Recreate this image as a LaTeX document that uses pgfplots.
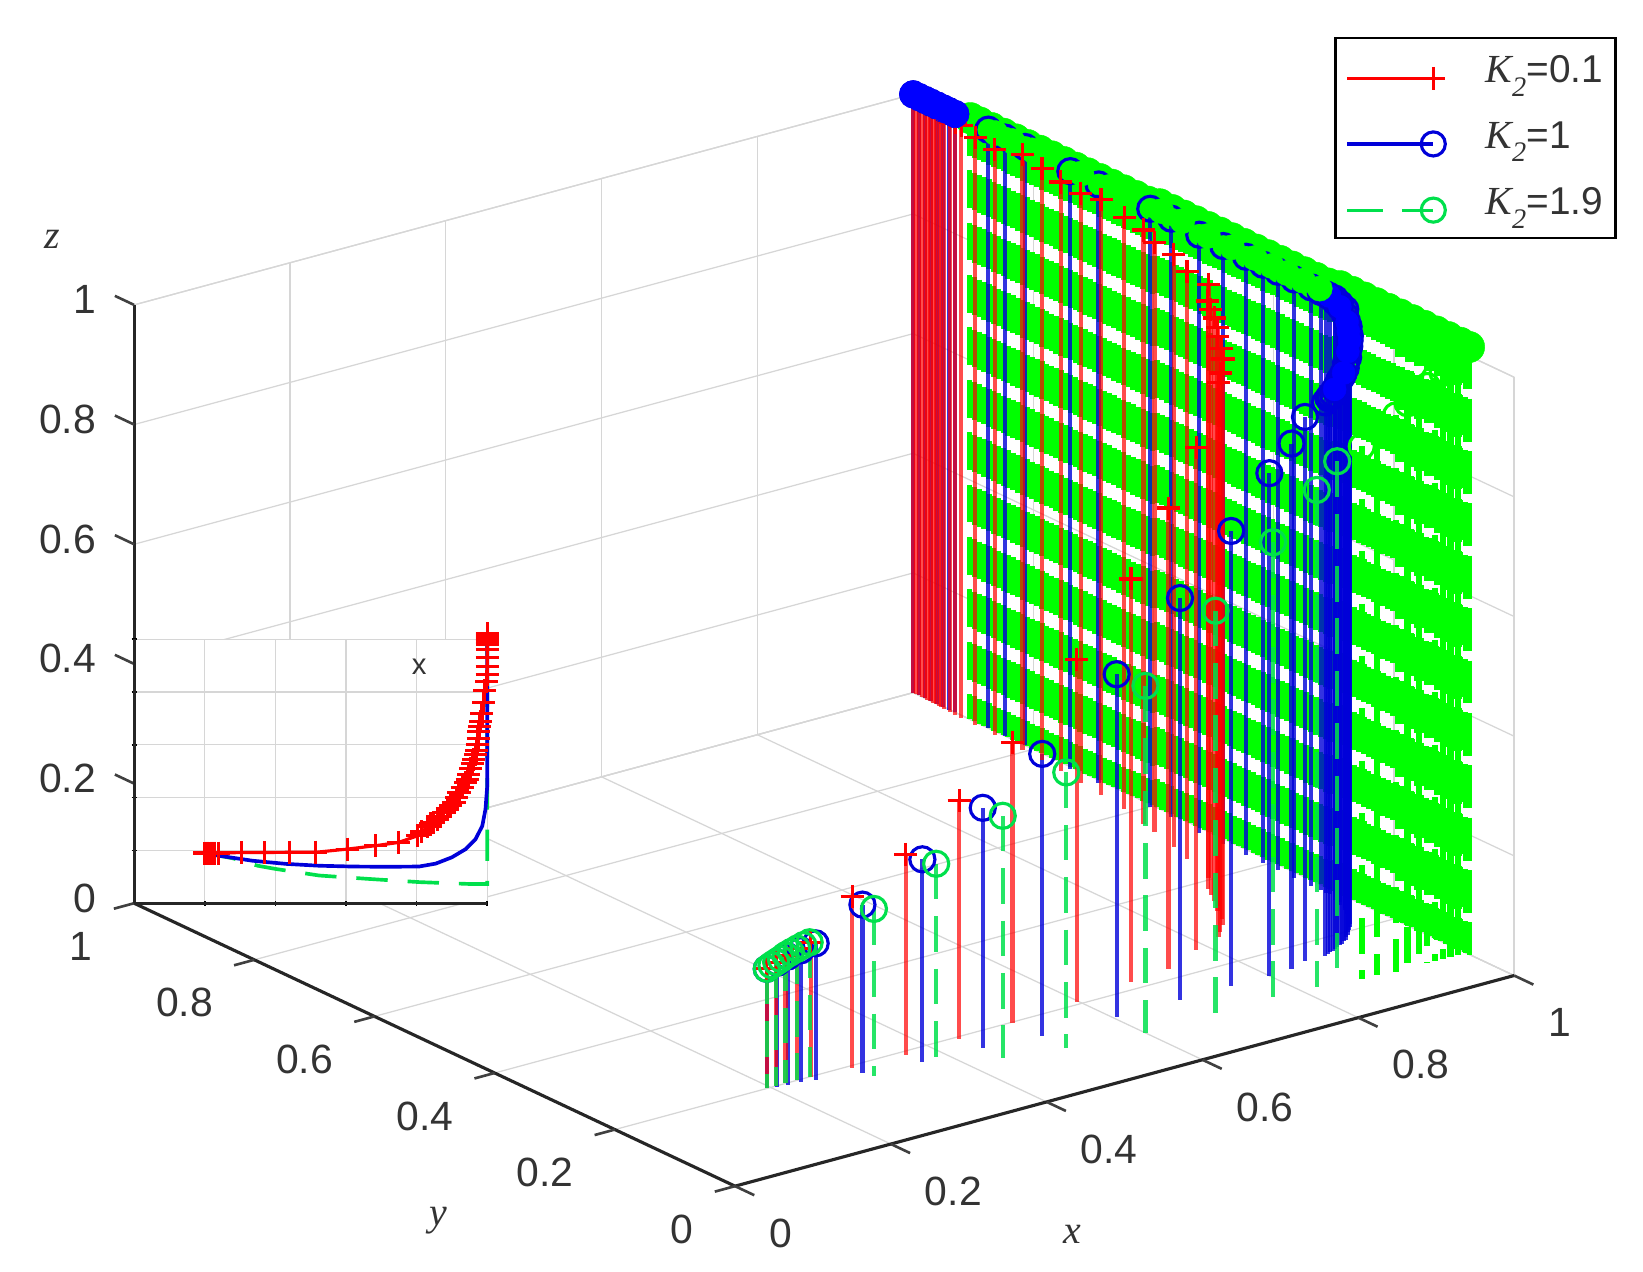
\documentclass[border=0pt]{standalone}
\usepackage{fontspec}
\setmainfont{Liberation Sans}
\newfontfamily\serifit{Liberation Serif}
\usepackage{pgfplots}
\usepackage{pgfplotstable}
\pgfplotsset{compat=1.18}

\definecolor{wallgreen}{rgb}{0,1,0}
\definecolor{dashgreen}{rgb}{0,.88,.3}
\definecolor{gridc}{gray}{.84}
\definecolor{tickc}{gray}{.2}

% x y z of the tops of the stems
\pgfplotstableread{
.195 .2 .2
.207 .2 .207
.219 .2 .214
.234 .2 .22
.25 .198 .225
.300 .194 .287
.3665 .191 .335
.437 .1935 .399
.508 .197 .470
.5975 .206 .573
.676 .2175 .674
.730 .225 .770
.785 .250 .840
.825 .265 .928
.835 .275 .935
.85 .29 .946
.86 .305 .953
.87 .325 .96
.878 .335 .967
.885 .35 .974
.892 .365 .978
.90 .38 .983
.92 .405 .992
.935 .46 .982
.945 .495 .99
.955 .54 .985
.96 .565 .993
.97 .61 .989
.975 .655 .996
.98 .695 .985
.985 .735 .984
.988 .77 .989
.99 .805 .995
.993 .855 .979
.995 .89 .982
.996 .915 .99
.996 .925 .99
.997 .935 .995
.997 .945 .995
.997 .95 .995
.998 .955 .996
.998 .96 .996
.999 .965 .997
.999 .97 .997
.999 .975 .998
1 .98 .998
1 .985 .999
1 .99 .999
1 .995 1
1 1 1
}\redpts

\pgfplotstableread{
.195 .2 .2
.207 .198 .207
.219 .196 .214
.234 .194 .22
.25 .19 .228
.2997 .1766 .2815
.3685 .166 .338
.4406 .159 .402
.51 .15 .472
.604 .148 .573
.685 .1476 .672
.7517 .149 .76
.80 .148 .84
.83 .15 .878
.855 .16 .909
.880 .159 .925
.885 .160 .93
.890 .164 .93
.895 .165 .93
.900 .169 .935
.905 .171 .94
.910 .174 .945
.915 .176 .948
.920 .180 .95
.925 .183 .955
.930 .189 .96
.935 .192 .965
.940 .199 .97
.945 .203 .975
.950 .209 .98
.955 .215 .983
.960 .224 .985
.965 .230 .988
.970 .239 .99
.975 .249 .995
.980 .255 1
.980 .264 1
.985 .270 1
.985 .279 1
.99 .285 1
.99 .294 1
.99 .30 1
.99 .309 1
.99 .325 1
.99 .353 1
.99 .38 1
.99 .405 1
.99 .433 1
.99 .471 1
.99 .511 1
.995 .564 1
.995 .599 1
.995 .685 1
.995 .732 1
1 .814 1
1 .847 1
1 .875 1
1 .93 1
1 .94 1
1 .95 1
1 .96 1
1 .97 1
1 .98 1
1 .99 1
1 1 1
}\bluepts

\pgfplotstableread{
.195 .2 .2
.201 .2 .204
.207 .2 .207
.213 .2 .21
.219 .2 .214
.226 .2 .217
.234 .2 .22
.242 .2 .223
.25 .2 .225
.3032 .162 .28
.37 .145 .34
.44 .125 .405
.51 .11 .46
.60 .095 .58
.69 .095 .674
.76 .09 .766
.82 .095 .83
.85 .1 .865
}\greenpts

\begin{document}
\begin{tikzpicture}[font=\fontsize{39}{43}\selectfont]
\begin{axis}[
    name=main,
    x={(743.5pt,201pt)}, y={(-573.5pt,270pt)}, z={(0pt,571pt)},
    xmin=0, xmax=1, ymin=0, ymax=1, zmin=0, zmax=1,
    clip=false,
    unbounded coords=jump,
    grid=major,
    grid style={gridc, line width=1.2pt},
    axis line style={gridc, line width=1.2pt},
    xtick={0,.2,.4,.6,.8,1}, ytick={0,.2,.4,.6,.8,1}, ztick={0,.2,.4,.6,.8,1},
    major tick length=0pt,
    tick style={draw=none},
    /pgf/number format/assume math mode=true,
    tick label style={text=tickc},
    xticklabel style={anchor=west, xshift=29pt, yshift=-45pt},
    yticklabel style={anchor=east, xshift=-36pt, yshift=-41pt},
    zticklabel style={anchor=east, xshift=-33pt, yshift=5pt},
    legend cell align=left,
    legend style={at={(1.0744,1.0528)}, anchor=north east,
        draw=black, line width=2.5pt, fill=white, inner xsep=10pt, inner ysep=15pt,
        row sep=28pt, font=\fontsize{37}{39}\selectfont, text=tickc},
]
% legend samples
\addlegendimage{legend image code/.code={\path[draw=none] (0pt,-8pt)--(130pt,-8pt); \draw[red, line width=3pt] (0pt,-8pt)--(82pt,-8pt);
    \draw[red, line width=3pt] plot[mark=+, mark size=11pt] coordinates {(82pt,-8pt)};}}
\addlegendentry{{\fontsize{38}{38}\selectfont\serifit\itshape K}\raisebox{-13pt}{\fontsize{27}{27}\selectfont\serifit\itshape 2}=0.1}
\addlegendimage{legend image code/.code={\path[draw=none] (0pt,-8pt)--(130pt,-8pt); \draw[blue!85!black, line width=3pt] (0pt,-8pt)--(82pt,-8pt);
    \draw[blue!85!black, line width=3pt] plot[mark=o, mark size=11.5pt] coordinates {(82pt,-8pt)};}}
\addlegendentry{{\fontsize{38}{38}\selectfont\serifit\itshape K}\raisebox{-13pt}{\fontsize{27}{27}\selectfont\serifit\itshape 2}=1}
\addlegendimage{legend image code/.code={\path[draw=none] (0pt,-8pt)--(130pt,-8pt); \draw[dashgreen, line width=3pt, dash pattern=on 34pt off 18pt] (0pt,-8pt)--(82pt,-8pt);
    \draw[dashgreen, line width=3pt] plot[mark=o, mark size=11.5pt] coordinates {(82pt,-8pt)};}}
\addlegendentry{{\fontsize{38}{38}\selectfont\serifit\itshape K}\raisebox{-13pt}{\fontsize{27}{27}\selectfont\serifit\itshape 2}=1.9\rule[-37pt]{0pt}{0pt}}

% axis lines and their outward ticks
\addplot3[forget plot, black!85, line width=3pt] coordinates {(0,0,0)(1,0,0)};
\addplot3[forget plot, black!85, line width=3pt] coordinates {(0,0,0)(0,1,0)};
\addplot3[forget plot, black!85, line width=3pt] coordinates {(0,1,0)(0,1,1)};
\addplot3[forget plot, black!75, line width=2.5pt] coordinates {
(0,0,0)(0,-.032,0)(nan,nan,nan)(.2,0,0)(.2,-.032,0)(nan,nan,nan)(.4,0,0)(.4,-.032,0)(nan,nan,nan)
(.6,0,0)(.6,-.032,0)(nan,nan,nan)(.8,0,0)(.8,-.032,0)(nan,nan,nan)(1,0,0)(1,-.032,0)};
\addplot3[forget plot, black!75, line width=2.5pt] coordinates {
(0,0,0)(-.026,0,0)(nan,nan,nan)(0,.2,0)(-.026,.2,0)(nan,nan,nan)(0,.4,0)(-.026,.4,0)(nan,nan,nan)
(0,.6,0)(-.026,.6,0)(nan,nan,nan)(0,.8,0)(-.026,.8,0)(nan,nan,nan)(0,1,0)(-.026,1,0)};
\addplot3[forget plot, black!75, line width=2.5pt] coordinates {
(0,1,.2)(0,1.032,.2)(nan,nan,nan)(0,1,.4)(0,1.032,.4)(nan,nan,nan)(0,1,.6)(0,1.032,.6)(nan,nan,nan)
(0,1,.8)(0,1.032,.8)(nan,nan,nan)(0,1,1)(0,1.032,1)};

% green run that comes in to the wall, behind it
\addplot3[forget plot, wallgreen, line width=6pt, dash pattern=on 34pt off 16pt] coordinates {
(.87,.085,.89)(.87,.085,0)(nan,nan,nan)
(.89,.085,.91)(.89,.085,0)(nan,nan,nan)(.91,.08,.93)(.91,.08,0)(nan,nan,nan)(.925,.08,.945)(.925,.08,0)(nan,nan,nan)
(.94,.08,.955)(.94,.08,0)(nan,nan,nan)(.95,.08,.965)(.95,.08,0)(nan,nan,nan)(.96,.08,.975)(.96,.08,0)(nan,nan,nan)
(.97,.08,.98)(.97,.08,0)(nan,nan,nan)(.98,.08,.99)(.98,.08,0)(nan,nan,nan)(.99,.08,.995)(.99,.08,0)
};
\addplot3[forget plot, only marks, mark=o, mark size=12pt, wallgreen, line width=3pt] coordinates {
(.87,.085,.89)(.89,.085,.91)(.91,.08,.93)(.925,.08,.945)(.94,.08,.955)(.95,.08,.965)(.96,.08,.975)(.97,.08,.98)(.98,.08,.99)(.99,.08,.995)
};
% the far right of the wall is packed tighter
\addplot3[forget plot, wallgreen, line width=9pt, dash pattern=on 41pt off 9pt] coordinates {
(1,.078,1.015)(1,.078,0)(nan,nan,nan)(1,.094,1.015)(1,.094,0)(nan,nan,nan)(1,.110,1.015)(1,.110,0)(nan,nan,nan)
(1,.126,1.015)(1,.126,0)(nan,nan,nan)(1,.142,1.015)(1,.142,0)(nan,nan,nan)(1,.158,1.015)(1,.158,0)(nan,nan,nan)
(1,.174,1.015)(1,.174,0)(nan,nan,nan)(1,.190,1.015)(1,.190,0)
};

% green stems along the wall x=1, drawn top to bottom so that the dashes line up
\addplot3[forget plot, wallgreen, line width=5.3pt, dash pattern=on 36pt off 14pt] coordinates {
(1,.074,1.015)(1,.074,0)(nan,nan,nan)(1,.082,1.015)(1,.082,0)(nan,nan,nan)
(1,.090,1.015)(1,.090,0)(nan,nan,nan)(1,.098,1.015)(1,.098,0)(nan,nan,nan)(1,.106,1.015)(1,.106,0)(nan,nan,nan)
(1,.114,1.015)(1,.114,0)(nan,nan,nan)(1,.122,1.015)(1,.122,0)(nan,nan,nan)(1,.130,1.015)(1,.130,0)(nan,nan,nan)
(1,.138,1.015)(1,.138,0)(nan,nan,nan)(1,.146,1.015)(1,.146,0)(nan,nan,nan)(1,.154,1.015)(1,.154,0)(nan,nan,nan)
(1,.162,1.015)(1,.162,0)(nan,nan,nan)(1,.170,1.015)(1,.170,0)(nan,nan,nan)(1,.178,1.015)(1,.178,0)(nan,nan,nan)
(1,.186,1.015)(1,.186,0)(nan,nan,nan)(1,.194,1.015)(1,.194,0)(nan,nan,nan)(1,.202,1.015)(1,.202,0)(nan,nan,nan)
(1,.210,1.015)(1,.210,0)(nan,nan,nan)(1,.218,1.015)(1,.218,0)(nan,nan,nan)(1,.226,1.015)(1,.226,0)(nan,nan,nan)
(1,.234,1.015)(1,.234,0)(nan,nan,nan)(1,.242,1.015)(1,.242,0)(nan,nan,nan)(1,.250,1.015)(1,.250,0)(nan,nan,nan)
(1,.258,1.015)(1,.258,0)(nan,nan,nan)(1,.266,1.015)(1,.266,0)(nan,nan,nan)(1,.274,1.015)(1,.274,0)(nan,nan,nan)
(1,.282,1.015)(1,.282,0)(nan,nan,nan)(1,.290,1.015)(1,.290,0)(nan,nan,nan)(1,.298,1.015)(1,.298,0)(nan,nan,nan)
(1,.306,1.01)(1,.306,0)(nan,nan,nan)(1,.314,1.01)(1,.314,0)(nan,nan,nan)(1,.322,1.01)(1,.322,0)(nan,nan,nan)
(1,.330,1.01)(1,.330,0)(nan,nan,nan)(1,.338,1.01)(1,.338,0)(nan,nan,nan)(1,.346,1.01)(1,.346,0)(nan,nan,nan)
(1,.354,1.01)(1,.354,0)(nan,nan,nan)(1,.362,1.01)(1,.362,0)(nan,nan,nan)(1,.370,1.01)(1,.370,0)(nan,nan,nan)
(1,.378,1.01)(1,.378,0)(nan,nan,nan)(1,.386,1.01)(1,.386,0)(nan,nan,nan)(1,.394,1.01)(1,.394,0)(nan,nan,nan)
(1,.402,1.01)(1,.402,0)(nan,nan,nan)(1,.410,1.01)(1,.410,0)(nan,nan,nan)(1,.418,1.01)(1,.418,0)(nan,nan,nan)
(1,.426,1.01)(1,.426,0)(nan,nan,nan)(1,.434,1.01)(1,.434,0)(nan,nan,nan)(1,.442,1.01)(1,.442,0)(nan,nan,nan)
(1,.450,1.01)(1,.450,0)(nan,nan,nan)(1,.458,1.01)(1,.458,0)(nan,nan,nan)(1,.466,1.01)(1,.466,0)(nan,nan,nan)
(1,.474,1.01)(1,.474,0)(nan,nan,nan)(1,.482,1.01)(1,.482,0)(nan,nan,nan)(1,.490,1.01)(1,.490,0)(nan,nan,nan)
(1,.498,1.01)(1,.498,0)(nan,nan,nan)(1,.506,1.01)(1,.506,0)(nan,nan,nan)(1,.514,1.01)(1,.514,0)(nan,nan,nan)
(1,.522,1.01)(1,.522,0)(nan,nan,nan)(1,.530,1.01)(1,.530,0)(nan,nan,nan)(1,.538,1.01)(1,.538,0)(nan,nan,nan)
(1,.546,1.01)(1,.546,0)(nan,nan,nan)(1,.554,1.01)(1,.554,0)(nan,nan,nan)(1,.562,1.01)(1,.562,0)(nan,nan,nan)
(1,.570,1.01)(1,.570,0)(nan,nan,nan)(1,.578,1.01)(1,.578,0)(nan,nan,nan)(1,.586,1.01)(1,.586,0)(nan,nan,nan)
(1,.594,1.01)(1,.594,0)(nan,nan,nan)(1,.602,1.005)(1,.602,0)(nan,nan,nan)(1,.610,1.005)(1,.610,0)(nan,nan,nan)
(1,.618,1.005)(1,.618,0)(nan,nan,nan)(1,.626,1.005)(1,.626,0)(nan,nan,nan)(1,.634,1.005)(1,.634,0)(nan,nan,nan)
(1,.642,1.005)(1,.642,0)(nan,nan,nan)(1,.650,1.005)(1,.650,0)(nan,nan,nan)(1,.658,1.005)(1,.658,0)(nan,nan,nan)
(1,.666,1.005)(1,.666,0)(nan,nan,nan)(1,.674,1.005)(1,.674,0)(nan,nan,nan)(1,.682,1.005)(1,.682,0)(nan,nan,nan)
(1,.690,1.005)(1,.690,0)(nan,nan,nan)(1,.698,1.005)(1,.698,0)(nan,nan,nan)(1,.706,1.005)(1,.706,0)(nan,nan,nan)
(1,.714,1.005)(1,.714,0)(nan,nan,nan)(1,.722,1.005)(1,.722,0)(nan,nan,nan)(1,.730,1.005)(1,.730,0)(nan,nan,nan)
(1,.738,1.005)(1,.738,0)(nan,nan,nan)(1,.746,1.005)(1,.746,0)(nan,nan,nan)(1,.754,1.005)(1,.754,0)(nan,nan,nan)
(1,.762,1.005)(1,.762,0)(nan,nan,nan)(1,.770,1.005)(1,.770,0)(nan,nan,nan)(1,.778,1.005)(1,.778,0)(nan,nan,nan)
(1,.786,1.005)(1,.786,0)(nan,nan,nan)(1,.794,1.005)(1,.794,0)(nan,nan,nan)(1,.802,1.005)(1,.802,0)(nan,nan,nan)
(1,.810,1.005)(1,.810,0)(nan,nan,nan)(1,.818,1.005)(1,.818,0)(nan,nan,nan)(1,.826,1.005)(1,.826,0)(nan,nan,nan)
(1,.834,1.005)(1,.834,0)(nan,nan,nan)(1,.842,1.005)(1,.842,0)(nan,nan,nan)(1,.850,1.005)(1,.850,0)(nan,nan,nan)
(1,.858,1.005)(1,.858,0)(nan,nan,nan)(1,.866,1.005)(1,.866,0)(nan,nan,nan)(1,.874,1.005)(1,.874,0)(nan,nan,nan)
(1,.882,1.005)(1,.882,0)(nan,nan,nan)(1,.890,1.005)(1,.890,0)(nan,nan,nan)(1,.898,1.005)(1,.898,0)(nan,nan,nan)
(1,.906,1.005)(1,.906,0)
};
% green circles packed along the top of the wall
\addplot3[forget plot, only marks, mark=*, mark size=15pt, wallgreen] coordinates {
(1,.075,1.015)(1,.09,1.015)(1,.11,1.015)(1,.13,1.015)(1,.15,1.015)(1,.17,1.015)(1,.19,1.015)(1,.21,1.015)(1,.23,1.015)
(1,.25,1.015)(1,.27,1.015)(1,.29,1.015)(1,.31,1.01)(1,.33,1.01)(1,.35,1.01)(1,.37,1.01)(1,.39,1.01)
(1,.41,1.01)(1,.43,1.01)(1,.45,1.01)(1,.47,1.01)(1,.49,1.01)(1,.51,1.01)(1,.53,1.01)(1,.55,1.01)
(1,.57,1.01)(1,.59,1.01)(1,.61,1.005)(1,.63,1.005)(1,.65,1.005)(1,.67,1.005)(1,.69,1.005)(1,.71,1.005)
(1,.73,1.005)(1,.75,1.005)(1,.77,1.005)(1,.79,1.005)(1,.81,1.005)(1,.83,1.005)(1,.85,1.005)(1,.87,1.005)
(1,.89,1.005)(1,.905,1.005)
};

% blue stems and circles
\addplot3[forget plot, only marks, mark=o, mark size=12pt, blue!85!black, line width=3pt,
    error bars/.cd, z dir=minus, z fixed relative=1, error mark=none,
    error bar style={blue!85!black, line width=4pt, opacity=.8}] table {\bluepts};
% the bend of the blue run is packed solid
\addplot3[forget plot, only marks, mark=*, mark size=11pt, blue] coordinates {
(.900,.169,.935)(.920,.180,.95)(.940,.199,.97)(.950,.209,.98)(.960,.224,.985)(.970,.239,.99)(.980,.264,1)(.99,.294,1)};
% neighbouring green circles hide the right side of the blue ones on the wall
\addplot3[forget plot, only marks, mark=*, mark size=12pt, wallgreen] coordinates {
(.995,.317,1)(.995,.345,1)(.995,.372,1)(.995,.397,1)(.995,.425,1)(.995,.463,1)(.995,.503,1)
(1,.552,1)(1,.587,1)(1,.673,1)(1,.72,1)(1,.802,1)(1,.835,1)(1,.863,1)};

% red stems and crosses
\addplot3[forget plot, only marks, mark=+, mark size=11pt, red, line width=3pt,
    error bars/.cd, z dir=minus, z fixed relative=1, error mark=none,
    error bar style={red, line width=4pt, opacity=.7}] table {\redpts};
\addplot3[forget plot, only marks, mark=*, mark size=13pt, blue] coordinates {
(1,.93,1)(1,.945,1)(1,.96,1)(1,.975,1)(1,.99,1)(1,1,1)};

% green stems that stand clear of the wall
\addplot3[forget plot, dashgreen, line width=4pt, opacity=.85, dash pattern=on 34pt off 16pt] coordinates {
(.195,.2,.2)(.195,.2,0)(nan,nan,nan)(.207,.2,.207)(.207,.2,0)(nan,nan,nan)(.219,.2,.214)(.219,.2,0)(nan,nan,nan)
(.234,.2,.22)(.234,.2,0)(nan,nan,nan)(.25,.2,.225)(.25,.2,0)(nan,nan,nan)(.3032,.162,.28)(.3032,.162,0)(nan,nan,nan)
(.37,.145,.34)(.37,.145,0)(nan,nan,nan)(.44,.125,.405)(.44,.125,0)(nan,nan,nan)(.51,.11,.46)(.51,.11,0)(nan,nan,nan)
(.60,.095,.58)(.60,.095,0)(nan,nan,nan)(.69,.095,.674)(.69,.095,0)(nan,nan,nan)(.76,.09,.766)(.76,.09,0)(nan,nan,nan)
(.82,.095,.83)(.82,.095,0)(nan,nan,nan)(.85,.1,.865)(.85,.1,0)
};
\addplot3[forget plot, only marks, mark=o, mark size=12pt, dashgreen, line width=3pt] table {\greenpts};

\coordinate (O) at (axis cs:0,0,0);
\coordinate (I) at (axis cs:0,1,0);
\end{axis}

% axis letters
\node[font=\fontsize{38}{42}\selectfont\serifit\itshape, text=tickc] at ([shift={(321.5pt,-46pt)}]O) {x};
\node[font=\fontsize{38}{42}\selectfont\serifit\itshape, text=tickc] at ([shift={(-283.5pt,-33pt)}]O) {y};
\node[font=\fontsize{38}{42}\selectfont\serifit\itshape, text=tickc] at ([shift={(-651.5pt,904pt)}]O) {z};

% inset, x against y
\begin{axis}[
    at={(I)}, anchor=south west,
    scale only axis, width=337pt, height=252pt,
    xmin=0, xmax=1, ymin=0, ymax=1,
    clip=false,
    axis x line=bottom, axis y line=left,
    axis line style={-, black!85, line width=3pt},
    axis background/.style={fill=white},
    xtick={.2,.4,.6,.8,1}, ytick={.2,.4,.6,.8,1},
    xticklabels={}, yticklabels={},
    grid=major, grid style={gridc, line width=1.2pt},
    major tick length=5pt, tick style={black, line width=1.5pt},
]
\addplot[dashgreen, line width=3.5pt, dash pattern=on 30pt off 19pt] coordinates {
(.2,.19)(.28,.17)(.35,.142)(.40,.13)(.524,.105)(.665,.092)(.807,.08)(.948,.073)(1,.073)(1,.2)(1,.4)(1,.6)(1,.8)(1,1)};
\addplot[blue!85!black, line width=3.5pt] coordinates {
(.2,.19)(.24,.18)(.335,.161)(.43,.149)(.524,.142)(.618,.139)(.713,.138)(.807,.139)(.854,.15)(.90,.174)(.939,.205)(.967,.243)(.986,.293)(.995,.356)(1,.444)(1,.57)(1,.645)(1,1)};
\addplot[red, line width=3pt, mark=+, mark size=11pt] coordinates {
(.2,.19)(.203,.19)(.206,.19)(.209,.19)(.212,.19)(.215,.19)(.218,.19)(.221,.19)(.224,.19)(.228,.19)
(.24,.19)(.305,.192)(.37,.192)(.441,.193)(.514,.193)(.604,.205)(.684,.218)(.748,.23)(.802,.255)(.815,.27)(.83,.29)(.84,.30)(.849,.306)(.858,.318)(.868,.33)(.877,.345)(.887,.357)(.896,.37)(.906,.38)(.913,.40)(.92,.419)(.929,.437)(.938,.457)(.943,.47)(.948,.488)(.953,.51)(.958,.53)(.962,.545)(.967,.563)(.97,.58)(.972,.60)(.974,.625)(.976,.65)(.979,.67)(.981,.689)(.985,.72)(.99,.76)(.993,.806)(.998,.84)(1,.865)(1,.897)
(1,.93)(1,.96)(1,.98)(1,.985)(1,.99)(1,.995)(1,1)(1,1.003)(1,1.006)(1,1.01)(1,1.013)(1,1.016)(1,1.02)};
\node[font=\fontsize{28}{30}\selectfont, text=tickc] at (axis cs:.807,.897) {x};
\end{axis}

% page frame, same size as the reference
\pgfresetboundingbox
\path[use as bounding box] ([shift={(-701.5pt,-81pt)}]O) rectangle ([shift={(866.5pt,1132pt)}]O);
\end{tikzpicture}
\end{document}
